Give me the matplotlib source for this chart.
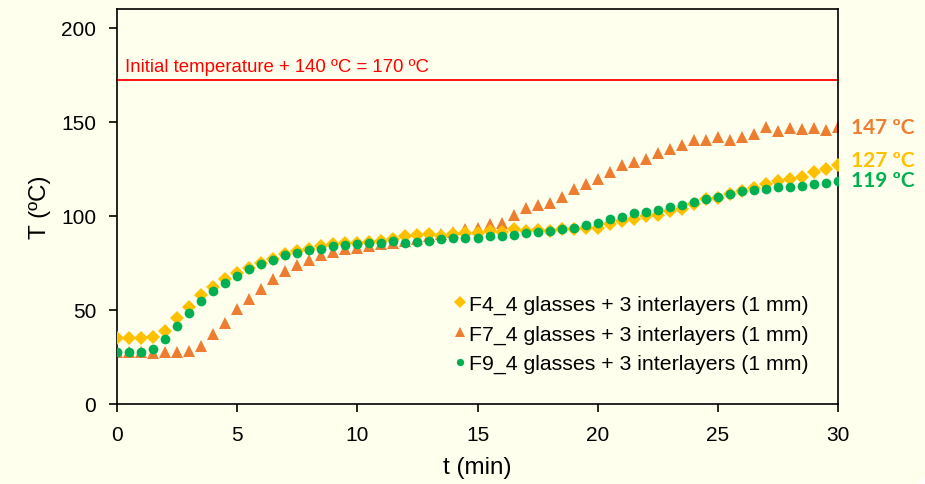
import matplotlib
matplotlib.use('Agg')
import matplotlib.pyplot as plt
import numpy as np
from matplotlib.patches import Ellipse

plt.rcParams['font.family'] = ['Liberation Sans', 'DejaVu Sans']

# time axis, one reading every 0.5 min
t_min = np.arange(0, 30.5, 0.5)

f4_temp = [35.0, 35.0, 35.0, 35.4, 38.9, 45.5, 51.7, 57.8, 62.2, 66.3,
           69.9, 72.5, 75.2, 77.3, 79.6, 81.3, 82.6, 84.0, 84.9, 85.4,
           85.8, 86.1, 86.6, 87.9, 89.3, 89.7, 90.2, 89.3, 90.2, 91.1,
           90.7, 91.9, 91.4, 92.8, 91.9, 92.5, 91.9, 92.8, 92.8, 93.7,
           93.7, 95.5, 97.3, 98.5, 99.9, 100.3, 102.6, 103.8, 106.1, 108.8,
           109.6, 111.4, 113.2, 115.0, 116.7, 118.5, 119.4, 120.8, 123.2, 125.0,
           126.8]
f7_temp = [27.4, 27.4, 27.4, 27.2, 27.4, 27.4, 28.2, 31.0, 37.0, 43.0,
           50.4, 55.7, 61.4, 66.3, 70.7, 73.7, 76.6, 79.0, 80.8, 82.6,
           83.1, 84.0, 85.0, 85.8, 86.6, 87.5, 89.3, 90.2, 91.4, 92.8,
           93.7, 95.5, 96.4, 100.3, 104.3, 105.6, 106.6, 110.2, 114.1, 116.7,
           119.7, 123.2, 127.3, 128.6, 130.3, 133.2, 135.6, 137.9, 140.6, 140.6,
           142.0, 140.2, 142.0, 143.8, 147.0, 145.0, 146.5, 146.0, 146.5, 145.5,
           147.0]
f9_temp = [27.4, 27.4, 27.4, 29.2, 34.8, 41.6, 48.6, 54.8, 60.1, 64.2,
           68.1, 72.0, 74.3, 76.6, 79.0, 80.5, 81.9, 82.6, 84.0, 84.3,
           84.9, 85.4, 85.8, 86.6, 85.8, 86.1, 86.6, 87.5, 88.4, 88.4,
           88.4, 89.3, 89.3, 89.7, 90.7, 91.4, 91.9, 92.8, 93.7, 95.0,
           96.4, 98.1, 99.6, 101.3, 102.0, 103.4, 104.9, 105.6, 107.3, 109.1,
           110.2, 111.9, 113.2, 113.7, 114.4, 115.5, 115.5, 115.8, 117.2, 117.6,
           118.5]

series_names = ['F4_4 glasses + 3 interlayers (1 mm)',
                'F7_4 glasses + 3 interlayers (1 mm)',
                'F9_4 glasses + 3 interlayers (1 mm)']
end_labels = ['127 ºC', '147 ºC', '119 ºC']
limit_temp = 172
limit_text = 'Initial temperature + 140 ºC = 170 ºC'

bg = '#FFFFED'
c_f4 = '#FFC000'
c_f7 = '#ED7D31'
c_f9 = '#00B050'

fig = plt.figure(figsize=(9.25, 4.85), dpi=100, facecolor=bg)
ax = fig.add_axes([117 / 925, 1 - 405 / 485, 721 / 925, 395 / 485])
ax.set_facecolor(bg)

# white corner of the slide background
fig.patches.append(Ellipse((1.32, -0.55), 0.9, 1.6, transform=fig.transFigure,
                           facecolor='white', edgecolor='none', zorder=-1))

ax.plot(t_min, f4_temp, 'D', color=c_f4, ms=7.5, mew=0, label=series_names[0], zorder=3)
ax.plot(t_min, f7_temp, '^', color=c_f7, ms=9, mew=0, label=series_names[1], zorder=2)
ax.plot(t_min, f9_temp, 'o', color=c_f9, ms=7, mew=0, label=series_names[2], zorder=4)

ax.axhline(limit_temp, color='#FF0000', lw=1.3, zorder=1, clip_on=False)
ax.text(0.35, limit_temp + 3, limit_text, color='#FF0000', fontsize=13.4, va='bottom')

for y, lab, col, dy in [(f4_temp[-1], end_labels[0], c_f4, 4),
                        (f7_temp[-1], end_labels[1], c_f7, 0),
                        (f9_temp[-1], end_labels[2], c_f9, 1)]:
    ax.annotate(lab, (t_min[-1], y), xytext=(9, dy), textcoords='offset points',
                color=col, fontsize=15, fontweight='bold', family=['Lato', 'DejaVu Sans'],
                va='center', ha='left', annotation_clip=False)

ax.set_xlim(0, 30)
ax.set_ylim(0, 210)
ax.set_xticks([0, 5, 10, 15, 20, 25, 30])
ax.set_yticks([0, 50, 100, 150, 200])
ax.tick_params(axis='both', direction='out', length=6, width=1.2, labelsize=15, pad=9)
for s in ax.spines.values():
    s.set_linewidth(1.2)

ax.set_xlabel('t (min)', fontsize=17.5, labelpad=9)
ax.set_ylabel('T (ºC)', fontsize=17.5, labelpad=7)

ax.legend(loc='lower right', bbox_to_anchor=(0.971, 0.056), frameon=False, fontsize=15.3,
          handlelength=0.6, handletextpad=0.1, labelspacing=0.5, markerscale=0.75,
          borderaxespad=0)

fig.savefig('out.png', dpi=100, facecolor=bg)
